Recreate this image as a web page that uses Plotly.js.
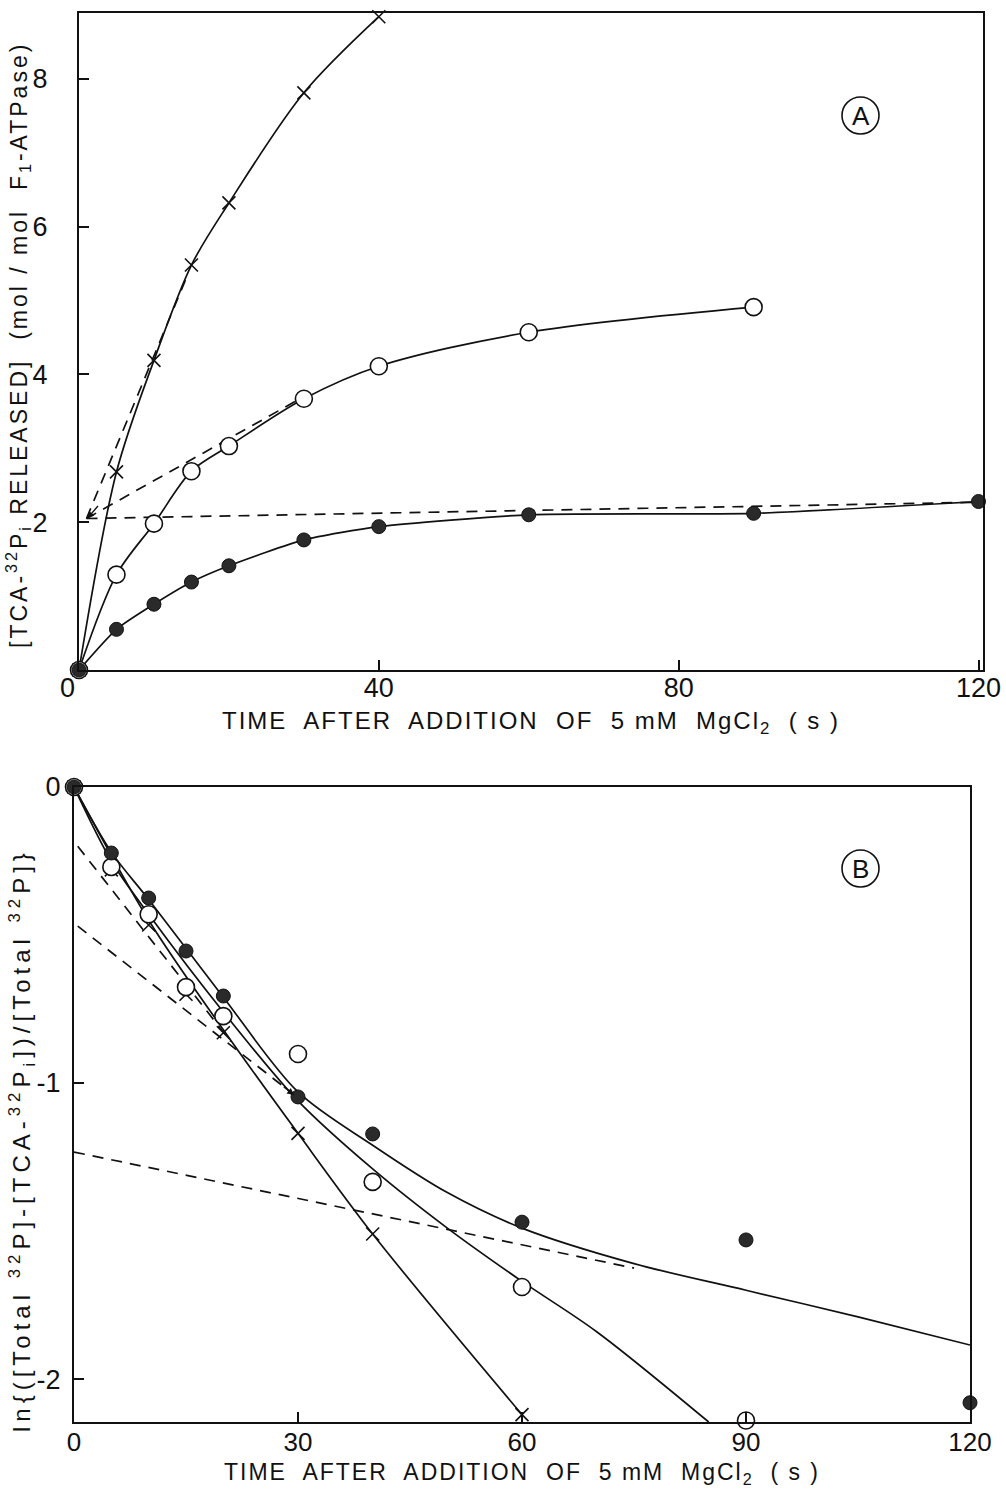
<!DOCTYPE html>
<html>
<head>
<meta charset="utf-8">
<script src="https://cdn.plot.ly/plotly-3.0.1.min.js"></script>
<style>
body{margin:0;background:#fff}
#chart{width:1006px;height:1491px}
</style>
</head>
<body>
<div id="chart"></div>
<script>
// ---------- Panel A data ----------
const crossTopX  = [0, 5, 10, 15, 20, 30, 40];
const crossTopY  = [0, 2.68, 4.19, 5.48, 6.32, 7.81, 8.84];
const openTopX   = [0, 5, 10, 15, 20, 30, 40, 60, 90];
const openTopY   = [0, 1.29, 1.98, 2.69, 3.03, 3.67, 4.11, 4.57, 4.91];
const filledTopX = [0, 5, 10, 15, 20, 30, 40, 60, 90, 120];
const filledTopY = [0, 0.55, 0.89, 1.19, 1.41, 1.76, 1.94, 2.10, 2.12, 2.28];
// extrapolated (dashed) lines, panel A
const dashFlatX  = [1, 120];
const dashFlatY  = [2.05, 2.27];
const dashOpenX  = [1, 30];
const dashOpenY  = [2.05, 3.70];
const dashCrossX = [1, 14.5];
const dashCrossY = [2.05, 5.35];

// ---------- Panel B data ----------
const crossBotX  = [0, 5, 10, 15, 20, 30, 40, 60];
const crossBotY  = [0, -0.28, -0.466, -0.70, -0.83, -1.17, -1.51, -2.12];
const openBotX   = [0, 5, 10, 15, 20, 30, 40, 60, 90];
const openBotY   = [0, -0.27, -0.43, -0.676, -0.774, -0.902, -1.334, -1.689, -2.14];
const filledBotX = [0, 5, 10, 15, 20, 30, 40, 60, 90, 120];
const filledBotY = [0, -0.223, -0.375, -0.554, -0.706, -1.047, -1.172, -1.47, -1.53, -2.08];
// fitted curves, panel B
const fitCrossX  = [0, 10, 20, 30, 40, 60];
const fitCrossY  = [0, -0.45, -0.82, -1.17, -1.51, -2.12];
const fitOpenX   = [0, 5, 10, 20, 30, 40, 50, 60, 70, 85];
const fitOpenY   = [0, -0.25, -0.43, -0.76, -1.06, -1.29, -1.49, -1.67, -1.84, -2.145];
const fitFilledX = [0, 5, 10, 20, 30, 40, 50, 60, 75, 90, 105, 120];
const fitFilledY = [0, -0.22, -0.38, -0.71, -1.03, -1.21, -1.37, -1.49, -1.61, -1.70, -1.79, -1.885];
// dashed lines, panel B
const dashB1X = [0.5, 21];   const dashB1Y = [-0.20, -0.86];
const dashB2X = [0.5, 29.5]; const dashB2Y = [-0.47, -1.04];
const dashB3X = [0, 75];     const dashB3Y = [-1.233, -1.625];

// tick labels
const topXTicks = [40, 80, 120];
const topYTicks = [2, 4, 6, 8];
const botXTicks = [0, 30, 60, 90, 120];
const botYTicks = [0, -1, -2];

// texts
const xTitleText = "TIME  AFTER  ADDITION  OF  5 mM  MgCl<sub>2</sub>  ( s )";
const yTitleTopText = "[TCA-<sup>32</sup>P<sub>i</sub> RELEASED]  (mol / mol  F<sub>1</sub>-ATPase)";
const yTitleBotText = "ln{([Total <sup>32</sup>P]-[TCA-<sup>32</sup>P<sub>i</sub>])/[Total <sup>32</sup>P]}";

const W = 1006, H = 1491;
const FONT = "Liberation Sans, Arial, sans-serif";
const INK = "#111";
const spaced = (t, s) => '<span style="letter-spacing:' + s + 'px">' + t + '</span>';

function solid(x, y, xa, ya, sm) {
  return {x, y, xaxis: xa, yaxis: ya, mode: "lines", type: "scatter",
    line: {color: INK, width: 1.7, shape: "spline", smoothing: sm || 0.9},
    hoverinfo: "skip", showlegend: false, cliponaxis: false};
}
function dashed(x, y, xa, ya) {
  return {x, y, xaxis: xa, yaxis: ya, mode: "lines", type: "scatter",
    line: {color: INK, width: 1.7, dash: "11px,8px"},
    hoverinfo: "skip", showlegend: false, cliponaxis: false};
}
function marks(x, y, xa, ya, kind) {
  let marker;
  if (kind === "x") marker = {symbol: "x-thin", size: 13, line: {color: INK, width: 1.6}, color: INK};
  else if (kind === "o") marker = {symbol: "circle", size: 17, color: "#fff", line: {color: INK, width: 1.6}};
  else marker = {symbol: "circle", size: 14, color: "#2a2a2a", line: {color: INK, width: 1}};
  return {x, y, xaxis: xa, yaxis: ya, mode: "markers", type: "scatter", marker,
    hoverinfo: "skip", showlegend: false, cliponaxis: false};
}

const data = [
  dashed(dashFlatX, dashFlatY, "x", "y"),
  dashed(dashOpenX, dashOpenY, "x", "y"),
  dashed(dashCrossX, dashCrossY, "x", "y"),
  solid(crossTopX, crossTopY, "x", "y"),
  solid(openTopX, openTopY, "x", "y"),
  solid(filledTopX, filledTopY, "x", "y", 0.6),
  marks(crossTopX, crossTopY, "x", "y", "x"),
  marks(openTopX, openTopY, "x", "y", "o"),
  marks(filledTopX, filledTopY, "x", "y", "f"),
  dashed(dashB1X, dashB1Y, "x2", "y2"),
  dashed(dashB2X, dashB2Y, "x2", "y2"),
  dashed(dashB3X, dashB3Y, "x2", "y2"),
  solid(fitCrossX, fitCrossY, "x2", "y2"),
  solid(fitOpenX, fitOpenY, "x2", "y2"),
  solid(fitFilledX, fitFilledY, "x2", "y2"),
  marks(crossBotX, crossBotY, "x2", "y2", "x"),
  marks(openBotX, openBotY, "x2", "y2", "o"),
  marks(filledBotX, filledBotY, "x2", "y2", "f"),
];

const px = v => v / W;
const py = v => 1 - v / H;

const axisBase = {
  showline: true, linecolor: INK, linewidth: 2, mirror: true,
  ticks: "inside", ticklen: 10, tickwidth: 2, tickcolor: INK,
  showgrid: false, zeroline: false, fixedrange: true,
  tickfont: {family: FONT, size: 27, color: INK},
};

const layout = {
  width: W, height: H,
  margin: {l: 0, r: 0, t: 0, b: 0},
  paper_bgcolor: "#fff", plot_bgcolor: "#fff",
  showlegend: false,
  font: {family: FONT, color: INK},
  xaxis: Object.assign({}, axisBase, {
    domain: [px(79), px(983)], range: [0, 120.6], anchor: "y",
    tickvals: topXTicks, ticktext: topXTicks.map(String), ticklabelstandoff: -7,
    title: {text: spaced(xTitleText, 2), font: {family: FONT, size: 24, color: INK}, standoff: 10},
  }),
  yaxis: Object.assign({}, axisBase, {
    domain: [py(670), py(13)], range: [0, 8.89], anchor: "x",
    tickvals: topYTicks, ticktext: topYTicks.map(String), ticklabelstandoff: 24,
  }),
  xaxis2: Object.assign({}, axisBase, {
    domain: [px(74), px(970)], range: [0, 120], anchor: "y2",
    tickvals: botXTicks, ticktext: botXTicks.map(String), ticklabelstandoff: -4,
    tickfont: {family: FONT, size: 26, color: INK},
    title: {text: spaced(xTitleText, 2), font: {family: FONT, size: 23, color: INK}, standoff: 8},
  }),
  yaxis2: Object.assign({}, axisBase, {
    domain: [py(1422), py(787)], range: [-2.145, 0], anchor: "x2",
    tickvals: botYTicks, ticktext: botYTicks.map(String), ticklabelstandoff: 6,
  }),
  shapes: [
    {type: "circle", xref: "paper", yref: "paper",
     x0: px(842), x1: px(879), y0: py(134), y1: py(97), line: {color: INK, width: 1.6}},
    {type: "circle", xref: "paper", yref: "paper",
     x0: px(842), x1: px(879), y0: py(887), y1: py(850), line: {color: INK, width: 1.6}},
  ],
  annotations: [
    {text: spaced(yTitleTopText, 3),
     xref: "paper", yref: "paper", x: px(18), y: py(345), xanchor: "center", yanchor: "middle",
     textangle: -90, showarrow: false, font: {family: FONT, size: 23, color: INK}},
    {text: spaced(yTitleBotText, 5),
     xref: "paper", yref: "paper", x: px(22), y: py(1140), xanchor: "center", yanchor: "middle",
     textangle: -90, showarrow: false, font: {family: FONT, size: 24, color: INK}},
    {text: "A", xref: "paper", yref: "paper", x: px(860.5), y: py(116), xanchor: "center", yanchor: "middle",
     showarrow: false, font: {family: FONT, size: 26, color: INK}},
    {text: "B", xref: "paper", yref: "paper", x: px(860.5), y: py(869), xanchor: "center", yanchor: "middle",
     showarrow: false, font: {family: FONT, size: 26, color: INK}},
    {text: "0", xref: "paper", yref: "paper", x: px(67), y: py(688), xanchor: "center", yanchor: "middle",
     showarrow: false, font: {family: FONT, size: 27, color: INK}},
    {text: "", xref: "x", yref: "y", x: 1.1, y: 2.05, ax: 12, ay: -14, axref: "pixel", ayref: "pixel",
     showarrow: true, arrowhead: 2, arrowsize: 1, arrowwidth: 1.4, arrowcolor: INK},
    {text: "", xref: "x2", yref: "y2", x: 29.5, y: -1.04, ax: -12, ay: -9, axref: "pixel", ayref: "pixel",
     showarrow: true, arrowhead: 2, arrowsize: 1, arrowwidth: 1.4, arrowcolor: INK},
  ],
};

Plotly.newPlot("chart", data, layout, {staticPlot: true, displayModeBar: false});
</script>
</body>
</html>
